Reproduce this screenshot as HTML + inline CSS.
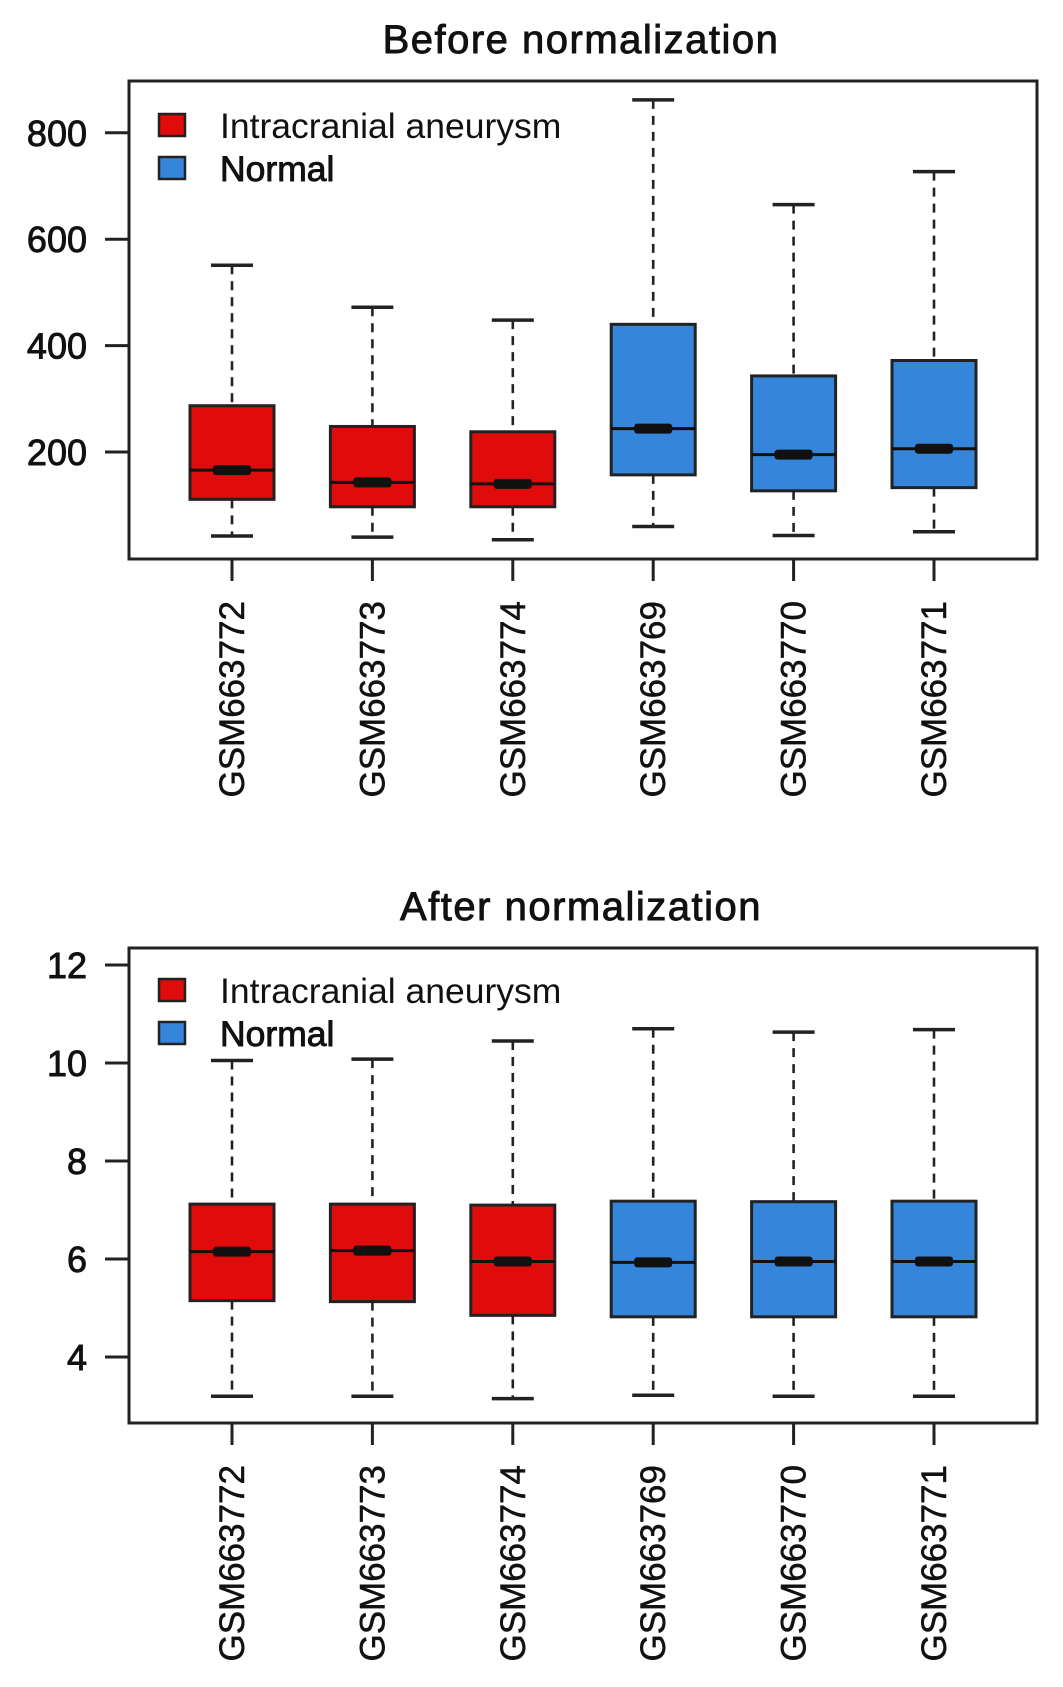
<!DOCTYPE html>
<html><head><meta charset="utf-8"><style>
html,body{margin:0;padding:0;background:#fff}
svg{display:block}
text{font-family:"Liberation Sans",Arial,sans-serif;fill:#111}
.hv{stroke:#111;stroke-width:0.9px}
.md{stroke:#111;stroke-width:0.5px}
</style></head><body>
<svg id="chart" width="1063" height="1687" viewBox="0 0 1063 1687"></svg>
<script>
const samples=["GSM663772","GSM663773","GSM663774","GSM663769","GSM663770","GSM663771"];
const groups=["IA","IA","IA","N","N","N"];
const beforeLow=[42,40,35,60,43,50];
const beforeQ1=[111,97,97,157,127,133];
const beforeMed=[166,143,140,244,195,206];
const beforeQ3=[287,248,238,440,343,372];
const beforeHigh=[551,472,448,862,665,727];
const beforeTicks=[200,400,600,800];
const afterLow=[3.2,3.2,3.15,3.22,3.2,3.2];
const afterQ1=[5.15,5.13,4.85,4.82,4.82,4.82];
const afterMed=[6.15,6.17,5.95,5.93,5.95,5.95];
const afterQ3=[7.12,7.12,7.1,7.18,7.17,7.18];
const afterHigh=[10.05,10.08,10.45,10.7,10.63,10.68];
const afterTicks=[4,6,8,10,12];
const legendLabels=["Intracranial aneurysm","Normal"];

const svg=document.getElementById('chart');
const NS='http://www.w3.org/2000/svg';
function mk(tag,attrs,parent){const e=document.createElementNS(NS,tag);for(const k in attrs)e.setAttribute(k,attrs[k]);(parent||svg).appendChild(e);return e;}
const colors={IA:"#e00b0b",N:"#3585db"};

function panel(cfg){
  const g=mk('g',{});
  
  
  const yS=v=>cfg.y0-(v-cfg.v0)*cfg.k;
  const xS=i=>232+i*140.4;
  const t=mk('text',{x:581,y:cfg.titleY,'text-anchor':'middle','font-size':40,'letter-spacing':1.5,'class':'hv'},g);t.textContent=cfg.title;
  
  
  const f=mk('rect',{x:129,y:cfg.top,width:908,height:cfg.bottom-cfg.top,fill:'none',stroke:'#222','stroke-width':3},g);
  
  
  cfg.ticks.forEach(v=>{
    const y=yS(v);
    mk('line',{x1:105,x2:129,y1:y,y2:y,stroke:'#222','stroke-width':3},g);
    const tl=mk('text',{x:87,y:y+13,'text-anchor':'end','font-size':36,'class':'hv'},g);tl.textContent=v;
    
    
  });
  samples.forEach((s,i)=>{
    const x=xS(i),hw=42;
    const bg=mk('g',{},g);
    
    
    mk('line',{x1:x,x2:x,y1:yS(cfg.high[i]),y2:yS(cfg.q3[i]),stroke:'#222','stroke-width':2.6,'stroke-dasharray':'9 7'},bg);
    mk('line',{x1:x,x2:x,y1:yS(cfg.q1[i]),y2:yS(cfg.low[i]),stroke:'#222','stroke-width':2.6,'stroke-dasharray':'9 7'},bg);
    mk('line',{x1:x-21,x2:x+21,y1:yS(cfg.high[i]),y2:yS(cfg.high[i]),stroke:'#222','stroke-width':3.5},bg);
    mk('line',{x1:x-21,x2:x+21,y1:yS(cfg.low[i]),y2:yS(cfg.low[i]),stroke:'#222','stroke-width':3.5},bg);
    mk('rect',{x:x-hw,y:yS(cfg.q3[i]),width:2*hw,height:yS(cfg.q1[i])-yS(cfg.q3[i]),fill:colors[groups[i]],stroke:'#222','stroke-width':3},bg);
    mk('line',{x1:x-hw,x2:x+hw,y1:yS(cfg.med[i]),y2:yS(cfg.med[i]),stroke:'#111','stroke-width':3},bg);
    mk('rect',{x:x-19,y:yS(cfg.med[i])-5,width:38,height:10,rx:3,fill:'#111'},bg);
    mk('line',{x1:x,x2:x,y1:cfg.bottom,y2:cfg.bottom+22,stroke:'#222','stroke-width':3},g);
    const lab=mk('text',{x:0,y:0,'text-anchor':'end','font-size':35,'class':'md',transform:`translate(${x+12},${cfg.bottom+42}) rotate(-90)`},g);
    lab.textContent=s;
    
    
  });
  const lg=mk('g',{},g);
  
  
  legendLabels.forEach((l,j)=>{
    const y=cfg.legY+j*43;
    mk('rect',{x:159,y:y-12,width:26,height:22,fill:j?colors.N:colors.IA,stroke:'#222','stroke-width':2.5},lg);
    const lt=mk('text',{x:220,y:y+12,'font-size':35.5,'class':j?'hv':''},lg);lt.textContent=l;
    
    
  });
}
panel({name:'before-normalization-chart',title:'Before  normalization',titleY:53,top:81,bottom:559,y0:452,v0:200,k:0.532,ticks:beforeTicks,low:beforeLow,q1:beforeQ1,med:beforeMed,q3:beforeQ3,high:beforeHigh,legY:126});
panel({name:'after-normalization-chart',title:'After  normalization',titleY:920,top:948,bottom:1423,y0:1357,v0:4,k:49,ticks:afterTicks,low:afterLow,q1:afterQ1,med:afterMed,q3:afterQ3,high:afterHigh,legY:991});
</script>
</body></html>
